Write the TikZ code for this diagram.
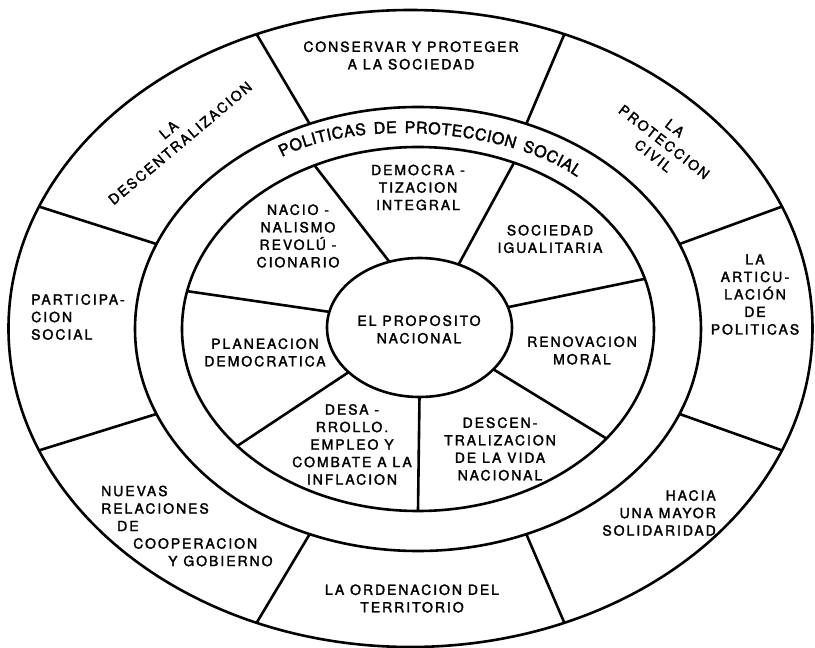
\documentclass[tikz,border=0pt]{standalone}
\usepackage{fontspec}
\usepackage{tikz}
\usetikzlibrary{math}
\usetikzlibrary{decorations.text}
\newfontfamily\diagfont[LetterSpace=14, FakeBold=2]{TeX Gyre Heros}
\def\lblfont{\diagfont\fontsize{14}{17.5}\selectfont}
\def\ringfont{\diagfont\fontsize{16}{16}\selectfont}

\begin{document}
\begin{tikzpicture}[x=1pt, y=1pt,
    rim/.style={line width=2.6pt},
    lbl/.style={align=center, inner sep=0pt, font=\lblfont}]
  \tikzmath{
    \ox = -7.5; \oy = 0.5; \orx = 402; \ory = 318.5;
    \mrx = 283; \mry = 222;
    \irx = 236; \iry = 182;
    \kx = 1.5; \ky = 1.5; \krx = 92.5; \kry = 69.5;
  }
  \useasboundingbox (-418, -319) rectangle (397, 329);

  % rims
  \draw [rim] (\ox, \oy) ellipse [x radius=\orx, y radius=\ory];
  \draw [rim] (0, 0) ellipse [x radius=\mrx, y radius=\mry];
  \draw [rim] (0, 0) ellipse [x radius=\irx, y radius=\iry];
  \draw [rim] (\kx, \ky) ellipse [x radius=\krx, y radius=\kry];

  % outer spokes
  \foreach \i [evaluate=\i as \a using 22.5+45*\i] in {0,...,7} {
    \draw [rim] ({\mrx*cos(\a)}, {\mry*sin(\a)})
      -- ({\ox+\orx*cos(\a)}, {\oy+\ory*sin(\a)});
  }

  % inner spokes (ring angle / centre angle)
  \foreach \a/\b in {-90/-90, -37/-37, 16/17, 66/65, 116/109, 168/167, 220/220} {
    \draw [rim] ({\kx+\krx*cos(\b)}, {\ky+\kry*sin(\b)})
      -- ({\irx*cos(\a)}, {\iry*sin(\a)});
  }

  % ring title
  \path [decorate, decoration={text along path,
      text={|\ringfont|POLITICAS DE PROTECCION SOCIAL},
      text align={fit to path}}]
    (-136, 172) .. controls (-61.5, 211.6) and (90, 200.4) .. (159, 152);

  % outer labels
  \node [lbl, rotate=40] (ladescent) at (-243.5, 192.5) {LA\\DESCENTRALIZACION};
  \node [lbl] (conservar) at (-7, 273.5) {CONSERVAR Y PROTEGER\\A LA SOCIEDAD};
  \node [lbl, rotate=-38] (proteccion) at (246, 187) {LA\\PROTECCION\\CIVIL};
  \node [lbl] (articulacion) at (337, 34.5) {LA\\ARTICU\,-\\LACIÓN\\DE\\POLITICAS};
  \node [lbl, align=right, anchor=east] (solidaridad) at (298, -184) {HACIA\\UNA MAYOR\\SOLIDARIDAD};
  \node [lbl] (ordenacion) at (-6, -269.5) {LA ORDENACION DEL\\TERRITORIO};
  \node [lbl, align=left, anchor=west] (nuevas) at (-317, -197)
    {NUEVAS\\RELACIONES\\\hspace{16pt}DE\\\hspace{32pt}COOPERACION\\\hspace{67pt}Y GOBIERNO};
  \node [lbl, align=left, anchor=west] (participacion) at (-387, 12) {PARTICIPA-\\CION\\SOCIAL};

  % inner labels
  \node [lbl] (nacionalismo) at (-120, 93) {NACIO -\\NALISMO\\REVOLÚ -\\CIONARIO};
  \node [lbl] (democratizacion) at (0, 141.5) {DEMOCRA -\\TIZACION\\INTEGRAL};
  \node [lbl] (igualitaria) at (132, 90) {SOCIEDAD\\IGUALITARIA};
  \node [lbl] (renovacion) at (164, -21.5) {RENOVACION\\MORAL};
  \node [lbl] (descentral) at (82, -120) {DESCEN-\\TRALIZACION\\DE LA VIDA\\NACIONAL};
  \node [lbl] (desarrollo) at (-66, -115.5) {DESA -\\RROLLO.\\EMPLEO Y\\COMBATE A LA\\INFLACION};
  \node [lbl] (planeacion) at (-153, -23.5) {PLANEACION\\DEMOCRATICA};
  \node [lbl] (proposito) at (1, -0.5) {EL PROPOSITO\\NACIONAL};
\end{tikzpicture}
\end{document}
